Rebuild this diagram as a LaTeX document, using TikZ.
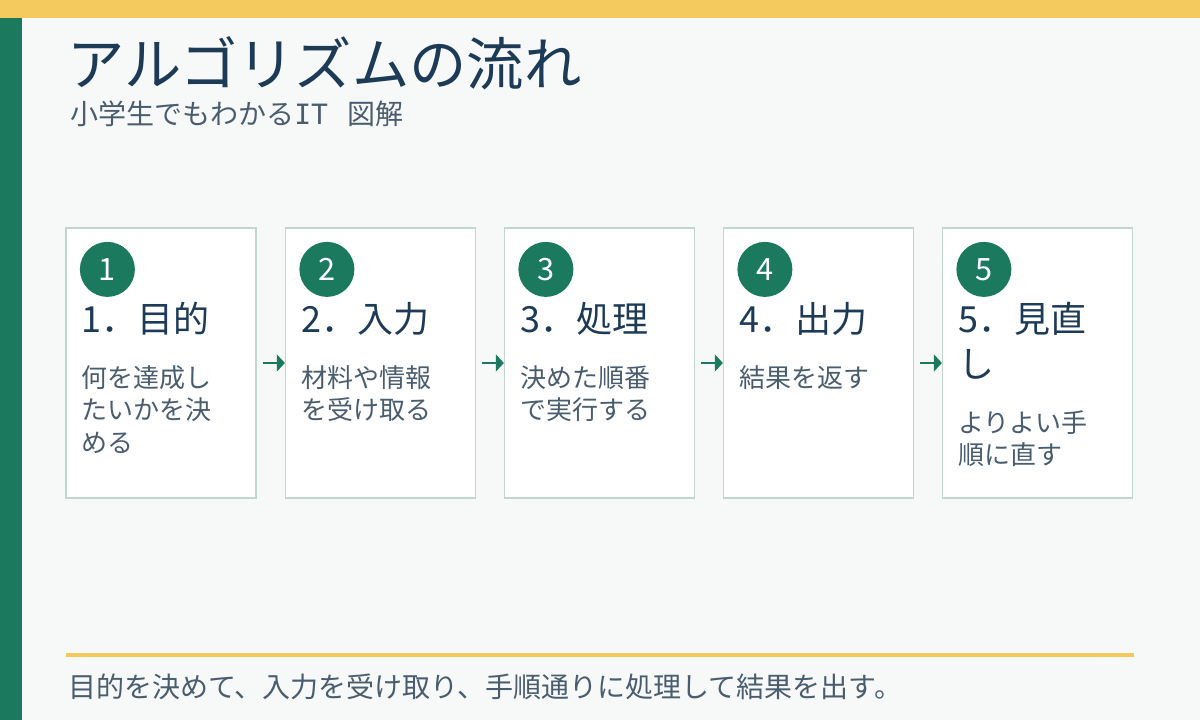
\documentclass[tikz,border=0pt]{standalone}
\usepackage{fontspec}
\setmainfont{Noto Sans CJK JP}
\newfontfamily\monolat{DejaVu Sans Mono}
\usetikzlibrary{arrows.meta,calc}
\definecolor{bgc}{HTML}{F7F9F8}
\definecolor{topy}{HTML}{F4CA5E}
\definecolor{sidegreen}{HTML}{1B7A5E}
\definecolor{navy}{HTML}{1D3A56}
\definecolor{graytext}{HTML}{4A5D6E}
\definecolor{boxline}{HTML}{C2D6D0}
\tikzset{
  stepbox/.style={draw=boxline, line width=0.9pt, fill=white, minimum width=142.5pt, minimum height=202.5pt, inner sep=0pt},
  numcirc/.style={circle, fill=sidegreen, minimum size=41.25pt, inner sep=0pt, text=white, font=\fontsize{23}{27}\selectfont},
  headtxt/.style={anchor=base west, inner sep=0pt, text=navy, font=\fontsize{27}{33.75}\selectfont},
  desctxt/.style={anchor=base west, inner sep=0pt, text=graytext, font=\fontsize{19.5}{24.4}\selectfont},
  flowarrow/.style={draw=sidegreen, line width=1.4pt, -{Triangle[length=6pt,width=12.5pt]}, shorten <=4.5pt}
}
\newcommand{\tl}[1]{\vtop{\baselineskip=24.4pt\lineskiplimit=-10pt#1}}
\begin{document}
\begin{tikzpicture}[x=0.75pt,y=-0.75pt]
\useasboundingbox (0,0) rectangle (1200,720);
\fill[bgc] (0,0) rectangle (1200,720);
\fill[topy] (0,0) rectangle (1200,18);
\fill[sidegreen] (0,18) rectangle (22,720);
\node[anchor=base west, inner sep=0pt, text=navy, font=\fontsize{43}{50}\selectfont] (title) at (67,86) {アルゴリズムの流れ};
\node[anchor=base west, inner sep=0pt, text=graytext, font=\fontsize{21}{25}\selectfont] (subtitle) at (70,125) {小学生でもわかる{\monolat IT}\hspace{15pt}図解};
% boxes
\foreach \i/\x in {1/161,2/380.5,3/599.5,4/818.5,5/1037.5}{
  \node[stepbox] (b\i) at (\x,363) {};
}
\foreach \i in {1,...,5}{
  \node[numcirc] (c\i) at ($(b\i.north west)+(42,42)$) {\i};
}
\node[headtxt] (h1) at ($(b1.north west)+(16,105)$) {1．目的};
\node[headtxt] (h2) at ($(b2.north west)+(16,105)$) {2．入力};
\node[headtxt] (h3) at ($(b3.north west)+(16,105)$) {3．処理};
\node[headtxt] (h4) at ($(b4.north west)+(16,105)$) {4．出力};
\node[headtxt] (h5) at ($(b5.north west)+(16,105)$) {\vtop{\baselineskip=33.75pt\lineskiplimit=-10pt\hbox{5．見直}\hbox{し}}};
\node[desctxt] (d1) at ($(b1.north west)+(16,160)$) {\tl{\hbox{何を達成し}\hbox{たいかを決}\hbox{める}}};
\node[desctxt] (d2) at ($(b2.north west)+(16,160)$) {\tl{\hbox{材料や情報}\hbox{を受け取る}}};
\node[desctxt] (d3) at ($(b3.north west)+(16,160)$) {\tl{\hbox{決めた順番}\hbox{で実行する}}};
\node[desctxt] (d4) at ($(b4.north west)+(16,160)$) {\tl{\hbox{結果を返す}}};
\node[desctxt] (d5) at ($(b5.north west)+(16,205)$) {\tl{\hbox{よりよい手}\hbox{順に直す}}};
\foreach \a/\b in {1/2,2/3,3/4,4/5}{
  \draw[flowarrow] (b\a.east) -- (b\b.west);
}
\draw[topy, line width=3pt] (66,655) coordinate (ls) -- (1134,655) coordinate (le);
\node[anchor=base west, inner sep=0pt, text=graytext, font=\fontsize{21}{25}\selectfont] (summary) at (68,697) {目的を決めて、入力を受け取り、手順通りに処理して結果を出す。};
\end{tikzpicture}
\end{document}
